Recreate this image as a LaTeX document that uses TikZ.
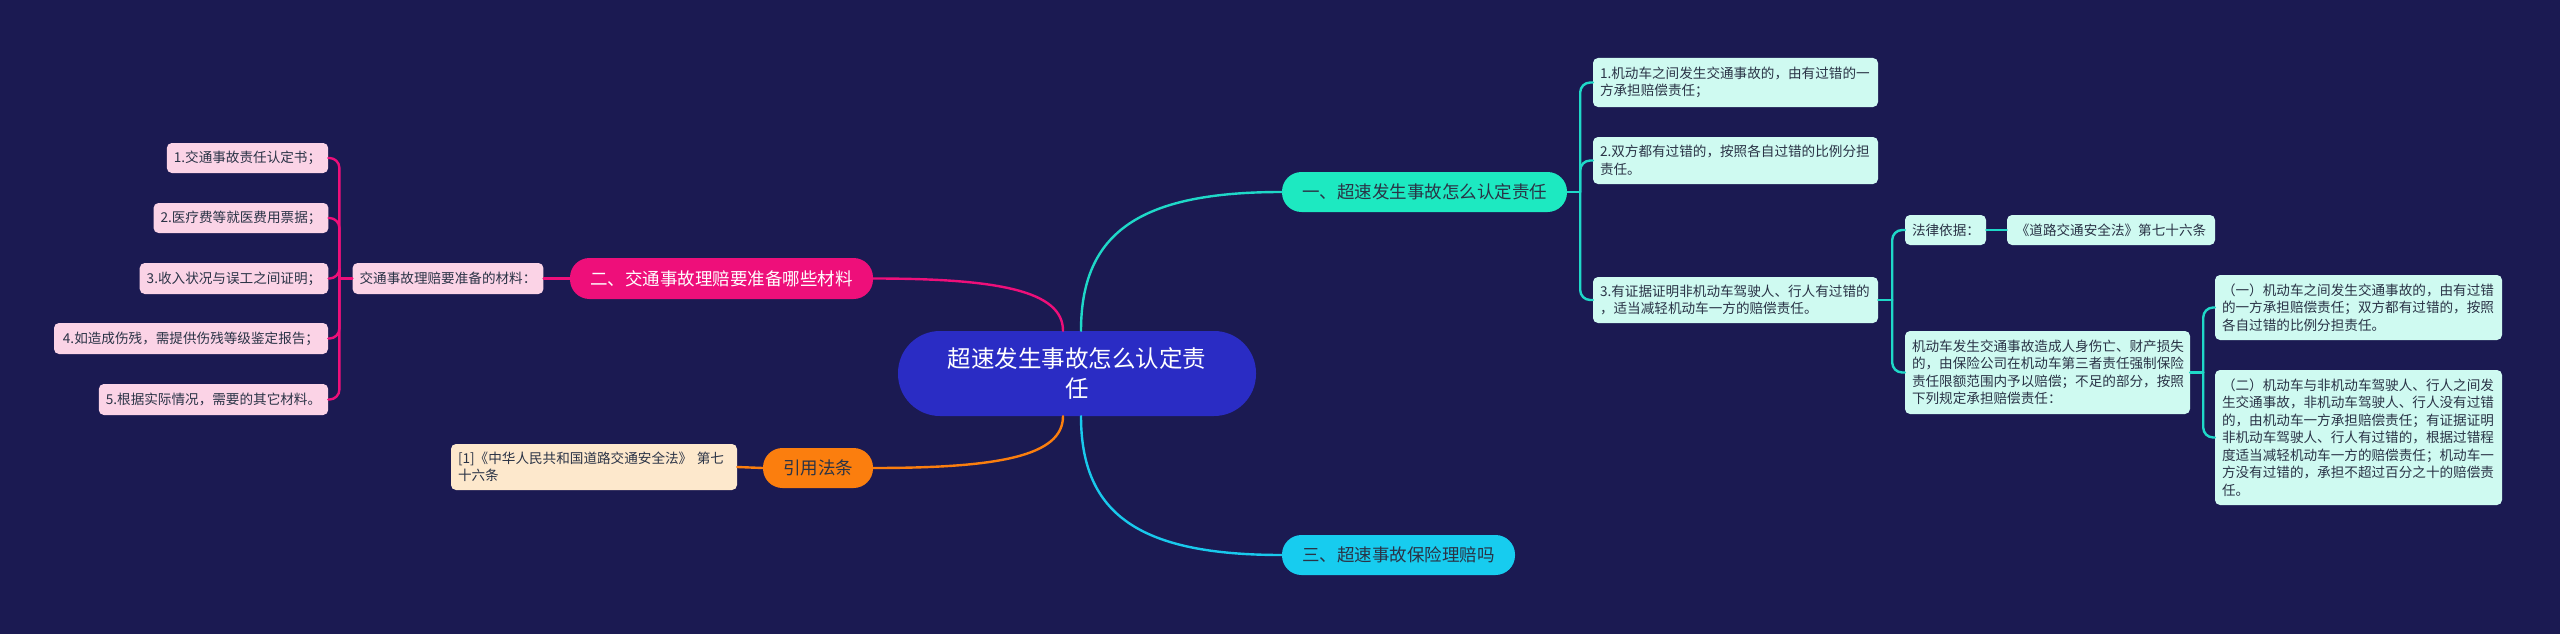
\documentclass[tikz,border=0pt]{standalone}
\usepackage{fontspec}
\setmainfont{Noto Sans CJK SC}
\definecolor{bg}{HTML}{1B1A52}
\definecolor{cmain}{HTML}{2A2CC4}
\definecolor{cteal}{HTML}{1DE9C1}
\definecolor{lteal}{HTML}{1FD8C8}
\definecolor{cmint}{HTML}{CFFAF1}
\definecolor{ccyan}{HTML}{17CCEF}
\definecolor{lcyan}{HTML}{19C9EC}
\definecolor{cmag}{HTML}{EE0F7A}
\definecolor{cpink}{HTML}{FBD3E6}
\definecolor{corange}{HTML}{FB7E0E}
\definecolor{cpeach}{HTML}{FDE8CC}
\definecolor{tdark}{HTML}{2A3346}
\tikzset{
  base/.style={draw=none, inner xsep=7pt, inner ysep=0pt, anchor=center},
  leafbox/.style={base, rounded corners=5pt, text=tdark, align=left,
    font=\fontsize{13.6pt}{17.5pt}\selectfont},
  rleaf/.style={leafbox, fill=cmint},
  pleaf/.style={leafbox, fill=cpink},
  oleaf/.style={leafbox, fill=cpeach},
  branch/.style={base, rounded corners=19.5pt, minimum height=40pt, align=center,
    font=\fontsize{17.5pt}{21pt}\selectfont},
  lnk/.style={line width=2.4pt, line cap=round},
  bracket/.style={lnk, rounded corners=10pt},
}
\begin{document}
\begin{tikzpicture}[x=1pt,y=-1pt]
\useasboundingbox (0,0) rectangle (2560,634);
\fill[bg] (0,0) rectangle (2560,634);

% central
\node[base, fill=cmain, rounded corners=42pt, minimum width=358pt, minimum height=85pt,
  text=white, align=center, font=\fontsize{23.5pt}{30pt}\selectfont]
  (c) at (1077,373.5) {超速发生事故怎么认定责\\任};

% branches
\node[branch, fill=cteal, minimum width=285pt, text=tdark] (b1) at (1424.5,192) {一、超速发生事故怎么认定责任};
\node[branch, fill=ccyan, minimum width=233pt, text=tdark] (b3) at (1398.5,555) {三、超速事故保险理赔吗};
\node[branch, fill=cmag, minimum width=303pt, minimum height=41pt, text=white] (b2) at (721.5,278.5) {二、交通事故理赔要准备哪些材料};
\node[branch, fill=corange, minimum width=110pt, text=tdark] (b4) at (818,468) {引用法条};

% right leaves
\node[rleaf, minimum width=285pt, text width=271pt, minimum height=49pt] (r1) at (1735.5,82.5)
  {1.机动车之间发生交通事故的，由有过错的一\\方承担赔偿责任；};
\node[rleaf, minimum width=285pt, text width=271pt, minimum height=47pt] (r2) at (1735.5,160.5)
  {2.双方都有过错的，按照各自过错的比例分担\\责任。};
\node[rleaf, minimum width=285pt, text width=271pt, minimum height=46pt] (r3) at (1735.5,300)
  {3.有证据证明非机动车驾驶人、行人有过错的\\，适当减轻机动车一方的赔偿责任。};
\node[rleaf, minimum width=81pt, text width=67pt, minimum height=30pt] (law) at (1945.5,230)
  {法律依据：};
\node[rleaf, minimum width=208pt, text width=194pt, minimum height=30pt, align=center] (lawref) at (2111,230)
  {《道路交通安全法》第七十六条};
\node[rleaf, minimum width=285pt, text width=271pt, minimum height=83pt] (big) at (2047.5,372.5)
  {机动车发生交通事故造成人身伤亡、财产损失\\的，由保险公司在机动车第三者责任强制保险\\责任限额范围内予以赔偿；不足的部分，按照\\下列规定承担赔偿责任：};
\node[rleaf, minimum width=287pt, text width=273pt, minimum height=65pt] (s1) at (2358.5,307.5)
  {（一）机动车之间发生交通事故的，由有过错\\的一方承担赔偿责任；双方都有过错的，按照\\各自过错的比例分担责任。};
\node[rleaf, minimum width=287pt, text width=273pt, minimum height=135pt] (s2) at (2358.5,437.5)
  {（二）机动车与非机动车驾驶人、行人之间发\\生交通事故，非机动车驾驶人、行人没有过错\\的，由机动车一方承担赔偿责任；有证据证明\\非机动车驾驶人、行人有过错的，根据过错程\\度适当减轻机动车一方的赔偿责任；机动车一\\方没有过错的，承担不超过百分之十的赔偿责\\任。};

% left leaves
\node[pleaf, minimum width=190pt, minimum height=31pt] (mat) at (448,278.5) {交通事故理赔要准备的材料：};
\node[pleaf, minimum width=161pt, minimum height=30pt] (m1) at (247.5,158) {1.交通事故责任认定书；};
\node[pleaf, minimum width=174pt, minimum height=30pt] (m2) at (241,218) {2.医疗费等就医费用票据；};
\node[pleaf, minimum width=188pt, minimum height=31pt] (m3) at (234,278.5) {3.收入状况与误工之间证明；};
\node[pleaf, minimum width=274pt, minimum height=31pt] (m4) at (191,338.5) {4.如造成伤残，需提供伤残等级鉴定报告；};
\node[pleaf, minimum width=229pt, minimum height=31pt] (m5) at (213.5,399.5) {5.根据实际情况，需要的其它材料。};
\node[oleaf, minimum width=286pt, text width=272pt, minimum height=46pt] (ref) at (594,467)
  {[1]《中华人民共和国道路交通安全法》 第七\\十六条};

% main curves
\draw[lnk, lteal] ([xshift=4pt]c.north) .. controls +(0,-100) and +(-140,0) .. (b1.west);
\draw[lnk, lcyan] ([xshift=4pt]c.south) .. controls +(0,100) and +(-140,0) .. (b3.west);
\draw[lnk, cmag] ([xshift=-14pt]c.north) .. controls +(0,-40) and +(125,0) .. (b2.east);
\draw[lnk, corange] ([xshift=-14pt]c.south) .. controls +(0,40) and +(125,0) .. (b4.east);

% branch 1 brackets
\coordinate (j1) at ([xshift=13pt]b1.east);
\draw[lnk, lteal] (b1.east) -- (j1);
\draw[bracket, lteal] (j1) |- (r1.west);
\draw[bracket, lteal] (j1) |- (r2.west);
\draw[bracket, lteal] (j1) |- (r3.west);
\coordinate (j3) at ([xshift=14pt]r3.east);
\draw[lnk, lteal] (r3.east) -- (j3);
\draw[bracket, lteal] (j3) |- (law.west);
\draw[bracket, lteal] (j3) |- (big.west);
\draw[lnk, lteal] (law.east) -- (lawref.west);
\coordinate (j4) at ([xshift=13pt]big.east);
\draw[lnk, lteal] (big.east) -- (j4);
\draw[bracket, lteal] (j4) |- (s1.west);
\draw[bracket, lteal] (j4) |- (s2.west);

% branch 2
\draw[lnk, cmag] (b2.west) -- (mat.east);
\coordinate (jl) at ([xshift=-13pt]mat.west);
\draw[lnk, cmag] (mat.west) -- (jl);
\draw[bracket, cmag] (jl) |- (m1.east);
\draw[bracket, cmag] (jl) |- (m2.east);
\draw[bracket, cmag] (jl) |- (m3.east);
\draw[bracket, cmag] (jl) |- (m4.east);
\draw[bracket, cmag] (jl) |- (m5.east);

% branch 4
\draw[lnk, corange] (b4.west) -- (ref.east);
\end{tikzpicture}
\end{document}
